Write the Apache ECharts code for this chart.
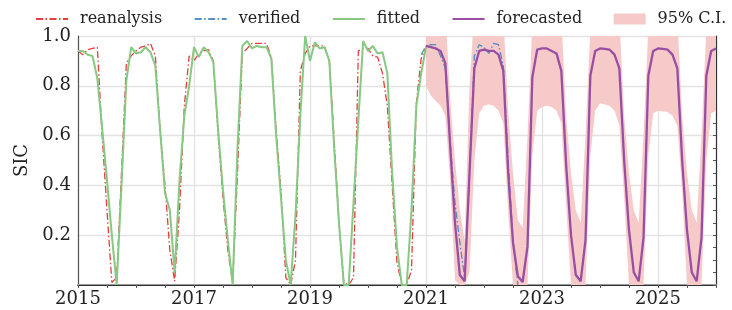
<!DOCTYPE html>
<html>
<head>
<meta charset="utf-8">
<script src="https://cdn.jsdelivr.net/npm/echarts@6/dist/echarts.min.js"></script>
<style>
  html, body { margin: 0; padding: 0; background: #fff; }
  #echart_show { width: 732px; height: 310px; }
</style>
</head>
<body>
<div id="echart_show"></div>
<script>
// monthly SIC, index 0 = Jan 2015
var x_ticks = [2015, 2017, 2019, 2021, 2023, 2025];

var reanalysis_start = 0;
var reanalysis = [
    0.94, 0.925, 0.945, 0.95, 0.955, 0.6, 0.3, 0.01, 0.03, 0.45, 0.89, 0.92,
    0.94, 0.955, 0.96, 0.97, 0.92, 0.62, 0.4, 0.14, 0.015, 0.3, 0.72, 0.92,
    0.9, 0.93, 0.94, 0.945, 0.9, 0.6, 0.35, 0.14, 0.01, 0.45, 0.93, 0.95,
    0.97, 0.97, 0.97, 0.97, 0.915, 0.62, 0.38, 0.03, 0.0, 0.1, 0.86, 0.93,
    0.96, 0.96, 0.96, 0.96, 0.9, 0.58, 0.25, 0.01, 0.0, 0.03, 0.94, 0.95,
    0.95, 0.92, 0.915, 0.85, 0.72, 0.4, 0.09, 0.0, 0.0, 0.06, 0.73, 0.91,
    0.955
];

var fitted_start = 0;
var fitted = [
    0.94, 0.94, 0.925, 0.92, 0.83, 0.63, 0.42, 0.2, 0.0, 0.4, 0.82, 0.955,
    0.93, 0.935, 0.955, 0.935, 0.88, 0.62, 0.37, 0.3, 0.05, 0.42, 0.68, 0.8,
    0.955, 0.915, 0.955, 0.935, 0.895, 0.62, 0.38, 0.18, 0.0, 0.55, 0.96, 0.98,
    0.95, 0.96, 0.955, 0.955, 0.91, 0.6, 0.35, 0.1, 0.0, 0.28, 0.68, 1.0,
    0.9, 0.975, 0.95, 0.955, 0.9, 0.55, 0.25, 0.0, 0.0, 0.33, 0.66, 0.98,
    0.94, 0.96, 0.93, 0.935, 0.85, 0.45, 0.15, 0.0, 0.0, 0.3, 0.72, 0.85,
    0.955
];

// Dec 2020 .. Aug 2022
var verified_start = 71;
var verified = [
    0.925,
    0.96, 0.965, 0.965, 0.92, 0.87, 0.57, 0.33, 0.17, 0.03, 0.45, 0.92, 0.965,
    0.955, 0.93, 0.97, 0.965, 0.88, 0.5, 0.18, 0.0
];

// Jan 2021 .. Jan 2026
var forecast_start = 72;
var forecasted = [
    0.96, 0.955, 0.95, 0.94, 0.89, 0.56, 0.25, 0.04, 0.015, 0.45, 0.87, 0.94,
    0.945, 0.94, 0.94, 0.925, 0.86, 0.45, 0.17, 0.035, 0.012, 0.155, 0.835, 0.945,
    0.95, 0.95, 0.94, 0.93, 0.86, 0.48, 0.2, 0.04, 0.015, 0.18, 0.84, 0.94,
    0.95, 0.948, 0.945, 0.925, 0.87, 0.5, 0.22, 0.05, 0.015, 0.19, 0.84, 0.94,
    0.95, 0.948, 0.945, 0.925, 0.87, 0.5, 0.22, 0.05, 0.015, 0.19, 0.84, 0.94,
    0.95
];
var ci_lower = [
    0.80, 0.76, 0.74, 0.72, 0.68, 0.42, 0.02, 0, 0, 0.05, 0.5, 0.69,
    0.72, 0.725, 0.72, 0.70, 0.65, 0.3, 0, 0, 0, 0, 0.52, 0.70,
    0.715, 0.72, 0.715, 0.70, 0.65, 0.32, 0, 0, 0, 0, 0.52, 0.70,
    0.73, 0.725, 0.72, 0.70, 0.64, 0.35, 0, 0, 0, 0, 0.52, 0.69,
    0.70, 0.697, 0.695, 0.68, 0.64, 0.38, 0, 0, 0, 0, 0.5, 0.69,
    0.70
];
var ci_upper = [
    1.1, 1.1, 1.1, 1.1, 1.1, 0.75, 0.5, 0.3, 0.18, 0.8, 1.1, 1.1,
    1.1, 1.1, 1.1, 1.1, 1.08, 0.7, 0.45, 0.26, 0.23, 0.6, 1.05, 1.1,
    1.1, 1.1, 1.1, 1.1, 1.08, 0.68, 0.45, 0.3, 0.25, 0.6, 1.03, 1.1,
    1.1, 1.1, 1.1, 1.1, 1.08, 0.68, 0.45, 0.3, 0.25, 0.6, 1.03, 1.1,
    1.1, 1.1, 1.1, 1.1, 1.08, 0.68, 0.45, 0.3, 0.25, 0.6, 1.03, 1.1,
    1.1
];

var font = 'DejaVu Serif';
var ci_color = '#f7caca';

var month_x = function (m) {
    return 2015 + m / 12;
};

var to_points = function (start, values) {
    return values.map(function (v, i) {
        return [month_x(start + i), v];
    });
};

var ci_data = ci_lower.map(function (v, i) {
    return [month_x(forecast_start + i), v, ci_upper[i]];
});

// one polygon for the whole band: upper edge forward, lower edge back
var render_band = function (params, api) {
    if (params.dataIndex !== 0) {
        return null;
    }
    var pts = [];
    var i;
    for (i = 0; i < ci_data.length; i++) {
        pts.push(api.coord([ci_data[i][0], ci_data[i][2]]));
    }
    for (i = ci_data.length - 1; i >= 0; i--) {
        pts.push(api.coord([ci_data[i][0], ci_data[i][1]]));
    }
    var cs = params.coordSys;
    return {
        type: 'polygon',
        shape: {points: pts},
        style: {fill: ci_color},
        clipPath: {type: 'rect', shape: {x: cs.x, y: cs.y, width: cs.width, height: cs.height}}
    };
};

var my_chart = echarts.init(document.getElementById('echart_show'));

var dash_dot = [7, 2.5, 1.5, 2.5];

var option = {
    animation: false,
    legend: {
        left: 35,
        top: 11,
        width: 720,
        padding: 0,
        itemWidth: 32,
        itemHeight: 11,
        itemGap: 31.5,
        itemStyle: {opacity: 0},
        textStyle: {fontFamily: font, fontSize: 16, color: '#222', padding: [0, 0, 0, 7]},
        data: [
            'reanalysis', 'verified', 'fitted', 'forecasted',
            {name: '95% C.I.', icon: 'rect', itemStyle: {color: ci_color, opacity: 1}}
        ]
    },
    grid: {left: 78, right: 16, top: 36, bottom: 25},
    xAxis: [
        {
            type: 'value',
            min: 2015,
            max: 2026,
            interval: 2,
            axisLine: {lineStyle: {color: '#9a9a9a', width: 2}},
            axisTick: {show: false},
            axisLabel: {
                fontFamily: font, fontSize: 18, color: '#222', margin: 5,
                showMaxLabel: false,
                formatter: function (v) { return x_ticks.indexOf(v) >= 0 ? String(v) : ''; }
            },
            splitLine: {show: true, lineStyle: {color: '#e2e2e2', width: 1.3}}
        },
        {
            type: 'value',
            position: 'top',
            min: 2015,
            max: 2026,
            interval: 0.5,
            axisLine: {lineStyle: {color: '#333', width: 1.2}},
            axisTick: {show: true, inside: true, length: 3, lineStyle: {color: '#555'}},
            axisLabel: {show: false},
            splitLine: {show: false}
        }
    ],
    yAxis: [
        {
            type: 'value',
            min: 0,
            max: 1,
            interval: 0.2,
            name: 'SIC',
            nameLocation: 'middle',
            nameGap: 44,
            nameTextStyle: {fontFamily: font, fontSize: 18, color: '#222'},
            axisLine: {show: true, lineStyle: {color: '#555', width: 1.2}},
            axisTick: {show: false},
            axisLabel: {
                fontFamily: font, fontSize: 18, color: '#222', margin: 7,
                formatter: function (v) { return v < 0.01 ? '' : v.toFixed(1); }
            },
            splitLine: {show: true, lineStyle: {color: '#e2e2e2', width: 1.3}}
        },
        {
            type: 'value',
            position: 'right',
            min: 0,
            max: 1,
            interval: 0.05,
            axisLine: {show: true, lineStyle: {color: '#333', width: 1.2}},
            axisTick: {show: true, inside: true, length: 3, lineStyle: {color: '#555'}},
            axisLabel: {show: false},
            splitLine: {show: false}
        }
    ],
    series: [
        {
            name: '95% C.I.',
            type: 'custom',
            z: 1,
            clip: true,
            itemStyle: {color: ci_color},
            encode: {x: 0, y: [1, 2]},
            renderItem: render_band,
            data: ci_data
        },
        {
            name: 'reanalysis',
            type: 'line',
            symbol: 'none',
            z: 2,
            itemStyle: {color: '#e41a1c'},
            lineStyle: {color: '#e41a1c', width: 1.3, type: dash_dot, opacity: 0.85},
            data: to_points(reanalysis_start, reanalysis)
        },
        {
            name: 'verified',
            type: 'line',
            symbol: 'none',
            z: 2,
            itemStyle: {color: '#377eb8'},
            lineStyle: {color: '#377eb8', width: 1.3, type: dash_dot, opacity: 0.85},
            data: to_points(verified_start, verified)
        },
        {
            name: 'fitted',
            type: 'line',
            symbol: 'none',
            z: 2,
            itemStyle: {color: '#85c982'},
            lineStyle: {color: '#85c982', width: 2},
            data: to_points(fitted_start, fitted)
        },
        {
            name: 'forecasted',
            type: 'line',
            symbol: 'none',
            z: 2,
            itemStyle: {color: '#984ea3'},
            lineStyle: {color: '#984ea3', width: 2.3},
            data: to_points(forecast_start, forecasted)
        }
    ]
};

my_chart.setOption(option);
</script>
</body>
</html>
